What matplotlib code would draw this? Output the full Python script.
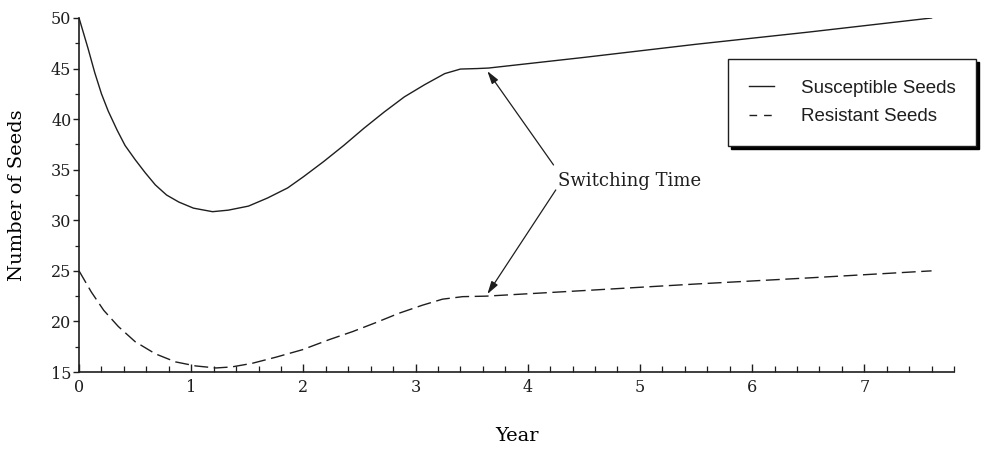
import numpy as np
import matplotlib.pyplot as plt
from matplotlib.lines import Line2D
from matplotlib.ticker import MultipleLocator

# values
sus_year = [0, 0.08, 0.14, 0.2, 0.26, 0.34, 0.41, 0.5, 0.59, 0.68, 0.78, 0.89, 1.02,
            1.19, 1.33, 1.51, 1.68, 1.86, 2.0, 2.18, 2.36, 2.54, 2.72, 2.9, 3.08, 3.26,
            3.4, 3.55, 3.65, 4.5, 5.5, 6.5, 7.6]
sus_seeds = [50, 47.0, 44.6, 42.5, 40.8, 38.9, 37.4, 36.0, 34.7, 33.5, 32.5, 31.8, 31.2,
             30.85, 31.0, 31.4, 32.2, 33.2, 34.3, 35.8, 37.4, 39.1, 40.7, 42.2, 43.4, 44.5,
             44.95, 45.0, 45.05, 46.1, 47.4, 48.6, 50.0]

res_year = [0, 0.11, 0.22, 0.35, 0.5, 0.68, 0.86, 1.04, 1.22, 1.36, 1.54, 1.75, 1.99,
            2.23, 2.44, 2.65, 2.85, 3.06, 3.24, 3.42, 3.63, 4.5, 5.5, 6.5, 7.6]
res_seeds = [25, 22.9, 21.1, 19.5, 18.0, 16.8, 16.0, 15.6, 15.4, 15.5, 15.85, 16.45, 17.2,
             18.2, 19.0, 19.9, 20.8, 21.6, 22.2, 22.45, 22.5, 23.05, 23.7, 24.3, 25.0]

switch_sus = (3.64, 44.75)
switch_res = (3.64, 22.7)

plt.rcParams['font.family'] = 'DejaVu Serif'

fig = plt.figure(figsize=(9.83, 4.54), dpi=100)
ax = fig.add_axes([0.0804, 0.1806, 0.8901, 0.7798])

ink = '#1e1e1e'
ax.plot(sus_year, sus_seeds, color=ink, lw=1.0)
ax.plot(res_year, res_seeds, color=ink, lw=1.0, linestyle=(0, (10, 4)))

ax.set_xlim(0, 7.8)
ax.set_ylim(15, 50)
ax.xaxis.set_major_locator(MultipleLocator(1))
ax.set_xticks(np.arange(0, 7.81, 0.2), minor=True)
ax.yaxis.set_major_locator(MultipleLocator(5))
ax.yaxis.set_minor_locator(MultipleLocator(2.5))
ax.xaxis.set_major_formatter('{x:.0f}')

for s in ['top', 'right']:
    ax.spines[s].set_visible(False)
for s in ['left', 'bottom']:
    ax.spines[s].set_linewidth(1.2)
    ax.spines[s].set_color(ink)

ax.tick_params(colors=ink, which='both')
ax.tick_params(axis='x', which='major', direction='in', length=6, width=1, labelsize=11.5, pad=5)
ax.tick_params(axis='x', which='minor', direction='in', length=4, width=0.9)
ax.tick_params(axis='y', which='major', direction='out', length=4.5, width=1, labelsize=11.5, pad=1)
ax.tick_params(axis='y', which='minor', direction='out', length=3, width=0.9)

ax.set_xlabel('Year', fontsize=14, labelpad=22)
ax.set_ylabel('Number of Seeds', fontsize=14, labelpad=18)

# label plus two arrows to the switching points
ax.text(4.27, 33.39, 'Switching Time', fontsize=13, ha='left', va='baseline', color=ink)
arrow = dict(arrowstyle='-|>,head_length=0.55,head_width=0.16', color=ink, lw=0.9,
             mutation_scale=14, shrinkA=0, shrinkB=0)
ax.annotate('', xy=switch_sus, xytext=(4.23, 35.47), arrowprops=arrow)
ax.annotate('', xy=switch_res, xytext=(4.25, 33.0), arrowprops=arrow)

# legend keys drawn like the original: short solid, "- -" dashed
handles = [Line2D([], [], color=ink, lw=1.0),
           Line2D([], [], color=ink, lw=1.0, linestyle=(0, (5.5, 5)))]
leg = ax.legend(handles, ['Susceptible Seeds', 'Resistant Seeds'],
                loc='upper left', bbox_to_anchor=(728 / 983, 1 - 59 / 454),
                bbox_transform=fig.transFigure, borderaxespad=0, fancybox=False,
                shadow={'color': 'k', 'alpha': 1}, framealpha=1, edgecolor=ink,
                prop={'family': 'Liberation Sans', 'size': 13.5}, handlelength=1.33,
                handletextpad=1.45, borderpad=1.1, labelspacing=0.6)
leg.get_frame().set_linewidth(1.0)
for t in leg.get_texts():
    t.set_color(ink)

fig.savefig('out.png', dpi=100)
